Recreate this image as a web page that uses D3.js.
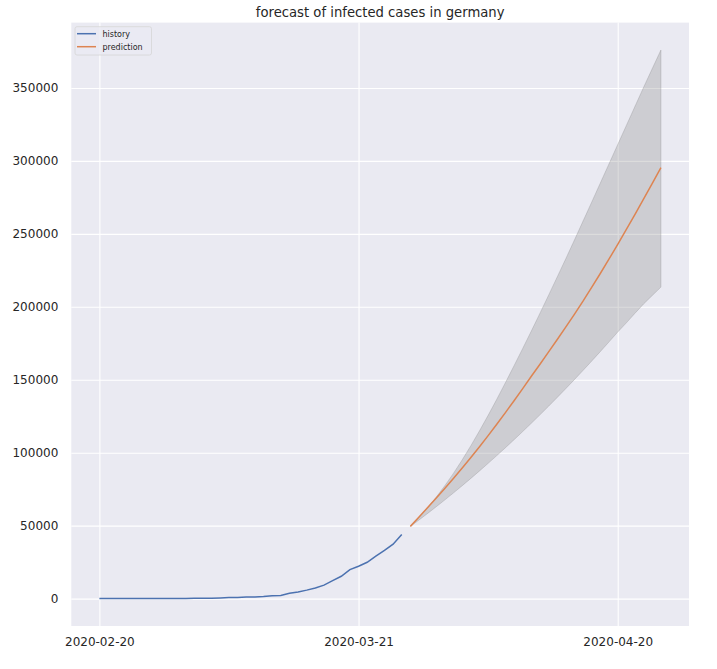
<!DOCTYPE html>
<html>
<head>
<meta charset="utf-8">
<script src="https://cdn.jsdelivr.net/npm/d3@7"></script>
<style>
	body { margin: 0; background: #fff; }
	text { font-family: "DejaVu Sans", sans-serif; fill: #262626; }
</style>
</head>
<body>
<div id="chart"></div>
<script>

// Data

var
	historyStart = '2020-02-20',
	historyCases = [16, 16, 16, 16, 16, 17, 27, 46, 48, 79, 130, 159, 196, 262, 482, 670,
		799, 1040, 1176, 1457, 1908, 2078, 3675, 4585, 5795, 7272, 9257, 12327, 15320,
		19848, 22213, 24873, 29056, 32986, 37323, 43938],

	predictionStart = '2020-03-27',
	predictionCases = [49500, 55900, 62400, 69000, 75700, 82500, 89500, 96700, 104100,
		111700, 119500, 127500, 135600, 143900, 152400, 160600, 169100, 177600, 186200,
		195000, 204000, 213500, 223000, 232800, 242800, 253000, 263400, 273900, 284600, 295400],
	predictionUpper = [49500, 55600, 62300, 69600, 77500, 86000, 95100, 104800, 115000,
		125600, 136600, 148000, 159600, 171400, 183400, 195600, 208000, 220500, 233100,
		245900, 258900, 271900, 285000, 298100, 311200, 324300, 337400, 350500, 363300, 376000],
	predictionLower = [49500, 53900, 58400, 63000, 67700, 72500, 77400, 82400, 87500,
		92700, 98000, 103400, 108900, 114500, 120200, 126000, 131900, 137900, 144000,
		150200, 156500, 162900, 169400, 176000, 182700, 189000, 195600, 202000, 207800, 213500],

	xTickLabels = ['2020-02-20', '2020-03-21', '2020-04-20'],
	yTickValues = [0, 50000, 100000, 150000, 200000, 250000, 300000, 350000];

// Layout

var
	width = 717,
	height = 669,
	margin = {top: 22.6, right: 28, bottom: 43, left: 71.3},
	parse = d3.timeParse('%Y-%m-%d'),
	dayMs = 864e5;

function series(start, values) {
	var t0 = parse(start);
	return values.map(function(v, i) {
		return {date: new Date(t0.getTime() + i*dayMs), value: v};
	});
}

var
	historyData = series(historyStart, historyCases),
	predictionData = series(predictionStart, predictionCases),
	bandData = predictionData.map(function(d, i) {
		return {date: d.date, lo: predictionLower[i], hi: predictionUpper[i]};
	});

// matplotlib-like 5% margins on both axes
var
	tMin = historyData[0].date.getTime(),
	tMax = predictionData[predictionData.length - 1].date.getTime(),
	tPad = (tMax - tMin)*0.05,
	vMin = d3.min(historyCases),
	vMax = d3.max(predictionUpper),
	vPad = (vMax - vMin)*0.05;

var
	x = d3.scaleTime()
		.domain([new Date(tMin - tPad), new Date(tMax + tPad)])
		.range([margin.left, width - margin.right]),
	y = d3.scaleLinear()
		.domain([vMin - vPad, vMax + vPad])
		.range([height - margin.bottom, margin.top]);

var svg = d3.select('#chart').append('svg')
	.attr('width', width)
	.attr('height', height);

svg.append('rect')
	.attr('x', margin.left)
	.attr('y', margin.top)
	.attr('width', width - margin.left - margin.right)
	.attr('height', height - margin.top - margin.bottom)
	.style('fill', '#eaeaf2');

// Grid + axes

var xTicks = xTickLabels.map(parse);

var xAxis = svg.append('g')
	.attr('transform', 'translate(0,' + (height - margin.bottom) + ')')
	.call(d3.axisBottom(x)
		.tickValues(xTicks)
		.tickFormat(d3.timeFormat('%Y-%m-%d'))
		.tickSize(-(height - margin.top - margin.bottom))
		.tickPadding(11));

var yAxis = svg.append('g')
	.attr('transform', 'translate(' + margin.left + ',0)')
	.call(d3.axisLeft(y)
		.tickValues(yTickValues)
		.tickFormat(d3.format('d'))
		.tickSize(-(width - margin.left - margin.right))
		.tickPadding(13));

[xAxis, yAxis].forEach(function(g) {
	g.select('.domain').remove();
	g.selectAll('.tick line').style('stroke', '#fff').style('stroke-width', 1.1);
	g.selectAll('.tick text')
		.style('font-size', '12px')
		.style('font-family', '"DejaVu Sans", sans-serif')
		.style('fill', '#262626');
});

// Marks

var clip = svg.append('clipPath').attr('id', 'plotclip')
	.append('rect')
	.attr('x', margin.left)
	.attr('y', margin.top)
	.attr('width', width - margin.left - margin.right)
	.attr('height', height - margin.top - margin.bottom);

var plot = svg.append('g').attr('clip-path', 'url(#plotclip)');

plot.append('path')
	.datum(bandData)
	.attr('d', d3.area()
		.x(function(d) {return x(d.date);})
		.y0(function(d) {return y(d.lo);})
		.y1(function(d) {return y(d.hi);}))
	.style('fill', '#808080')
	.style('fill-opacity', 0.28)
	.style('stroke', '#808080')
	.style('stroke-opacity', 0.28)
	.style('stroke-width', 1);

var line = d3.line()
	.x(function(d) {return x(d.date);})
	.y(function(d) {return y(d.value);});

plot.append('path')
	.datum(historyData)
	.attr('d', line)
	.style('fill', 'none')
	.style('stroke', '#4c72b0')
	.style('stroke-width', 1.5);

plot.append('path')
	.datum(predictionData)
	.attr('d', line)
	.style('fill', 'none')
	.style('stroke', '#dd8452')
	.style('stroke-width', 1.5);

// Title

svg.append('text')
	.attr('x', (margin.left + width - margin.right)/2)
	.attr('y', 17)
	.attr('text-anchor', 'middle')
	.style('font-size', '13.2px')
	.text('forecast of infected cases in germany');

// Legend

var legendItems = [
	{label: 'history', color: '#4c72b0'},
	{label: 'prediction', color: '#dd8452'}
];

var legend = svg.append('g')
	.attr('transform', 'translate(75,26.7)');

legend.append('rect')
	.attr('width', 76.5)
	.attr('height', 28.3)
	.attr('rx', 2)
	.style('fill', '#eaeaf2')
	.style('fill-opacity', 0.8)
	.style('stroke', '#d6d6d6')
	.style('stroke-width', 0.8);

var items = legend.selectAll('g.item')
	.data(legendItems)
	.enter()
	.append('g')
	.attr('class', 'item')
	.attr('transform', function(d, i) {return 'translate(0,' + (7 + i*13) + ')';});

items.append('line')
	.attr('x1', 2)
	.attr('x2', 21)
	.style('stroke', function(d) {return d.color;})
	.style('stroke-width', 1.5);

items.append('text')
	.attr('x', 27.5)
	.attr('y', 3)
	.style('font-size', '8px')
	.text(function(d) {return d.label;});

</script>
</body>
</html>
